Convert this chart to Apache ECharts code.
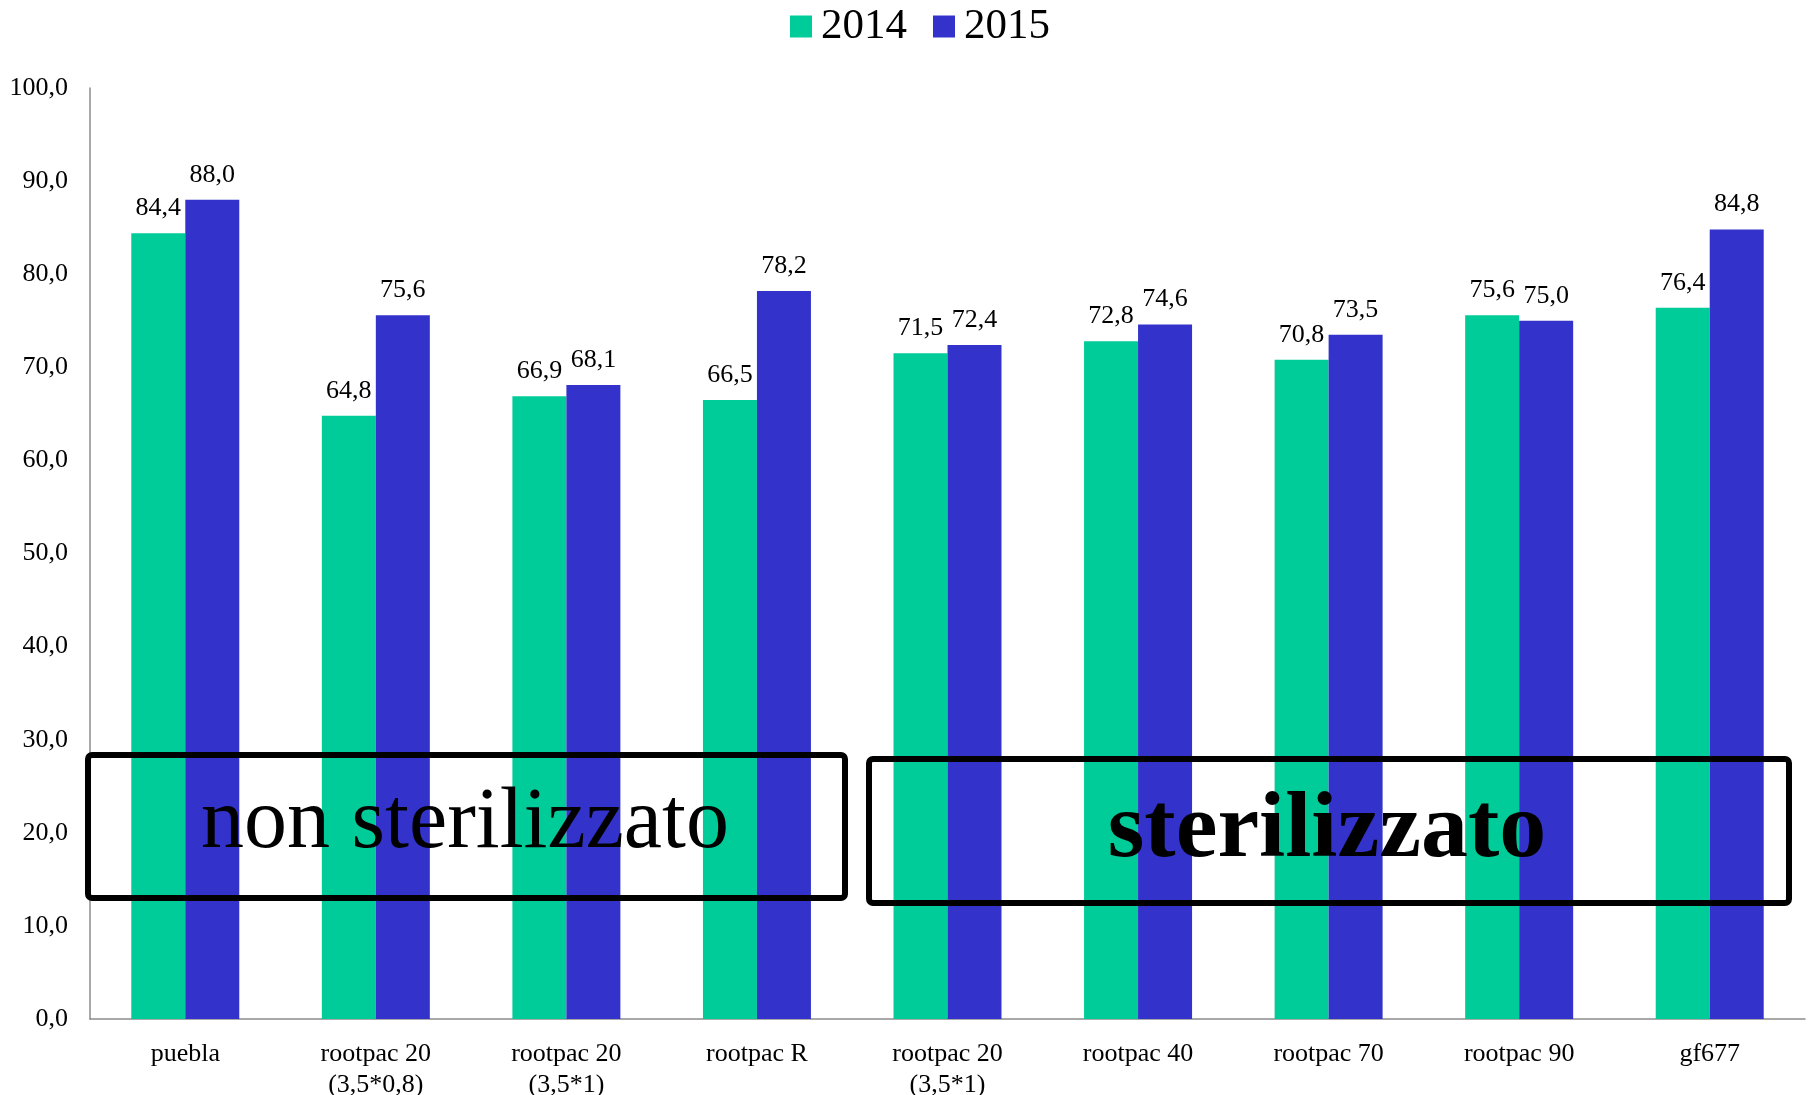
<!DOCTYPE html>
<html>
<head>
<meta charset="utf-8">
<script src="https://cdn.jsdelivr.net/npm/echarts@6/dist/echarts.min.js"></script>
<style>
  html, body { margin: 0; padding: 0; background: #fff; }
  #chart { width: 1814px; height: 1095px; }
</style>
</head>
<body>
<div id="chart"></div>
<script>
const categories = [
  'puebla',
  'rootpac 20\n(3,5*0,8)',
  'rootpac 20\n(3,5*1)',
  'rootpac R',
  'rootpac 20\n(3,5*1)',
  'rootpac 40',
  'rootpac 70',
  'rootpac 90',
  'gf677'
]
const values2014 = [84.4, 64.8, 66.9, 66.5, 71.5, 72.8, 70.8, 75.6, 76.4]
const values2015 = [88.0, 75.6, 68.1, 78.2, 72.4, 74.6, 73.5, 75.0, 84.8]
const seriesNames = ['2014', '2015']

const serif = "'Liberation Serif', 'Times New Roman', serif"
const comma = (v) => Number(v).toFixed(1).replace('.', ',')

const chart = echarts.init(document.getElementById('chart'))

const barLabel = {
  show: true,
  position: 'top',
  distance: 12,
  fontFamily: serif,
  fontSize: 26,
  color: '#000',
  formatter: (p) => comma(p.value)
}

const option = {
  backgroundColor: '#fff',
  animation: false,
  textStyle: { fontFamily: serif, color: '#000' },
  legend: {
    top: 0,
    left: 785,
    itemWidth: 22,
    itemHeight: 22,
    itemGap: 26,
    icon: 'rect',
    textStyle: { fontFamily: serif, fontSize: 43, color: '#000', padding: [0, 0, 0, 4] },
    data: seriesNames
  },
  grid: {
    left: 90,
    right: 9,
    top: 88,
    bottom: 76,
    outerBoundsMode: 'none'
  },
  xAxis: {
    type: 'category',
    data: categories,
    axisLine: { lineStyle: { color: '#8c8c8c', width: 1.5 } },
    axisTick: { show: false },
    axisLabel: {
      fontFamily: serif,
      fontSize: 26,
      color: '#000',
      margin: 20,
      lineHeight: 31,
      interval: 0
    }
  },
  yAxis: {
    type: 'value',
    min: 0,
    max: 100,
    interval: 10,
    axisLine: { show: true, lineStyle: { color: '#8c8c8c', width: 1.5 } },
    axisTick: { show: false },
    splitLine: { show: false },
    axisLabel: {
      fontFamily: serif,
      fontSize: 26,
      color: '#000',
      margin: 22,
      formatter: comma
    }
  },
  series: [
    {
      name: seriesNames[0],
      type: 'bar',
      data: values2014,
      barWidth: 54,
      barGap: '0%',
      itemStyle: { color: '#00CC99' },
      label: barLabel
    },
    {
      name: seriesNames[1],
      type: 'bar',
      data: values2015,
      barWidth: 54,
      barGap: '0%',
      itemStyle: { color: '#3333CC' },
      label: barLabel
    }
  ],
  graphic: [
    {
      type: 'rect',
      z: 100,
      shape: { x: 88, y: 755, width: 757, height: 143, r: 4 },
      style: { fill: 'transparent', stroke: '#000', lineWidth: 6 }
    },
    {
      type: 'text',
      z: 101,
      x: 465,
      y: 824,
      style: {
        text: 'non sterilizzato',
        fontFamily: serif,
        fontSize: 86,
        fill: '#000',
        align: 'center',
        verticalAlign: 'middle'
      }
    },
    {
      type: 'rect',
      z: 100,
      shape: { x: 869, y: 759, width: 920, height: 144, r: 4 },
      style: { fill: 'transparent', stroke: '#000', lineWidth: 6 }
    },
    {
      type: 'text',
      z: 101,
      x: 1327,
      y: 832,
      style: {
        text: 'sterilizzato',
        fontFamily: serif,
        fontSize: 94,
        fontWeight: 'bold',
        fill: '#000',
        align: 'center',
        verticalAlign: 'middle'
      }
    }
  ]
}

chart.setOption(option)

window.addEventListener('resize', () => {
  chart.resize()
})
</script>
</body>
</html>
